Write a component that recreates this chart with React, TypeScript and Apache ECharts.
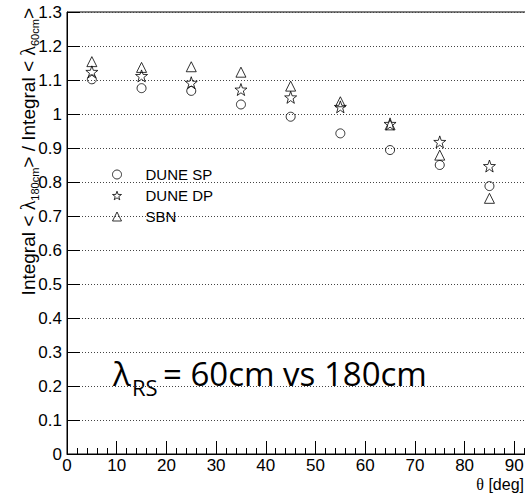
import React, { useEffect, useRef } from "react";
import * as echarts from "echarts";

// Polar angle bins (degrees)
const angles = [5, 15, 25, 35, 45, 55, 65, 75, 85];
// Ratio of integrals for the two Rayleigh scattering lengths
const duneSP = [1.102, 1.076, 1.068, 1.028, 0.992, 0.943, 0.894, 0.85, 0.788];
const duneDP = [1.124, 1.112, 1.092, 1.072, 1.049, 1.021, 0.971, 0.918, 0.847];
const sbn = [1.154, 1.137, 1.139, 1.123, 1.082, 1.036, 0.968, 0.879, 0.752];
const seriesNames = ["DUNE SP", "DUNE DP", "SBN"];
const yTicks = [0, 0.1, 0.2, 0.3, 0.4, 0.5, 0.6, 0.7, 0.8, 0.9, 1, 1.1, 1.2, 1.3];
const xTicks = [0, 10, 20, 30, 40, 50, 60, 70, 80, 90];

const STAR =
  "path://M0,-10L2.35,-3.24L9.51,-3.09L3.8,1.24L5.88,8.09L0,4L-5.88,8.09L-3.8,1.24L-9.51,-3.09L-2.35,-3.24Z";

const SANS = "'Liberation Sans', Arial, Helvetica, sans-serif";
const SERIF = "'Liberation Serif', 'DejaVu Serif', serif";

export default function App() {
  const ref = useRef<HTMLDivElement>(null);

  useEffect(() => {
    document.body.style.margin = "0";
    if (!ref.current) return;
    const chart = echarts.init(ref.current, undefined, { renderer: "svg" });

    const hollow = {
      color: "rgba(255,255,255,0)",
      borderColor: "#000",
      borderWidth: 1,
    };
    const pts = (vals: number[]) => angles.map((a, i) => [a, vals[i]]);

    chart.setOption({
      animation: false,
      backgroundColor: "#fff",
      grid: {
        left: 67,
        top: 12,
        right: 16,
        bottom: 40,
        show: true,
        borderColor: "#000",
        borderWidth: 1,
      },
      xAxis: {
        type: "value",
        min: 0,
        max: 100,
        interval: 10,
        axisLine: { show: true, onZero: false, lineStyle: { color: "#000", width: 1 } },
        axisTick: { show: true, inside: true, length: 13, lineStyle: { color: "#000" } },
        minorTick: { show: true, splitNumber: 5, length: 6, lineStyle: { color: "#000" } },
        splitLine: { show: false },
        axisLabel: {
          margin: 3,
          color: "#000",
          fontSize: 17,
          fontFamily: SANS,
          formatter: (v: number) => (xTicks.includes(v) ? String(v) : ""),
        },
      },
      yAxis: {
        type: "value",
        min: 0,
        max: 1.3,
        interval: 0.1,
        axisLine: { show: true, onZero: false, lineStyle: { color: "#000", width: 1 } },
        axisTick: { show: true, inside: true, length: 13, lineStyle: { color: "#000" } },
        splitLine: { show: true, lineStyle: { color: "#444", type: [1, 2], width: 1 } },
        axisLabel: {
          margin: 5,
          color: "#000",
          fontSize: 17,
          fontFamily: SANS,
          formatter: (v: number) => {
            const t = yTicks.find((y) => Math.abs(y - v) < 1e-6);
            return t === undefined ? "" : String(t);
          },
        },
      },
      legend: {
        orient: "vertical",
        left: 112,
        top: 166,
        padding: 0,
        itemGap: 4,
        itemWidth: 9,
        itemHeight: 9,
        itemStyle: { borderWidth: 1, borderColor: "#000", color: "rgba(255,255,255,0)" },
        data: seriesNames,
        textStyle: {
          color: "#000",
          fontSize: 15,
          lineHeight: 17,
          fontFamily: SANS,
          padding: [0, 0, 0, 19],
        },
      },
      series: [
        {
          name: seriesNames[0],
          type: "scatter",
          symbol: "circle",
          symbolSize: 9,
          itemStyle: hollow,
          data: pts(duneSP),
          z: 3,
        },
        {
          name: seriesNames[1],
          type: "scatter",
          symbol: STAR,
          symbolSize: 12,
          itemStyle: hollow,
          data: pts(duneDP),
          z: 4,
        },
        {
          name: seriesNames[2],
          type: "scatter",
          symbol: "triangle",
          symbolSize: 10,
          itemStyle: hollow,
          data: pts(sbn),
          z: 5,
        },
      ],
      graphic: [
        {
          type: "text",
          x: 28,
          y: 8,
          rotation: Math.PI / 2,
          style: {
            text:
              "{m|Integral < }{g|λ}{s|180cm}{m|> / Integral < }{g|λ}{s|60cm}{m|>}",
            align: "right",
            verticalAlign: "middle",
            fill: "#000",
            rich: {
              m: { fontSize: 19, fontFamily: SANS, lineHeight: 24, fill: "#000" },
              g: { fontSize: 20, fontFamily: SERIF, lineHeight: 24, fill: "#000" },
              s: {
                fontSize: 11,
                fontFamily: SANS,
                lineHeight: 11,
                verticalAlign: "bottom",
                fill: "#000",
              },
            },
          },
        },
        {
          type: "text",
          x: 524,
          y: 484,
          style: {
            text: "{t|θ} [deg]",
            align: "right",
            verticalAlign: "middle",
            fill: "#000",
            fontSize: 16,
            fontFamily: SANS,
            rich: {
              t: { fontSize: 16, fontFamily: SERIF, fill: "#000" },
            },
          },
        },
        {
          type: "text",
          x: 113,
          y: 373,
          style: {
            text: "λ",
            align: "left",
            verticalAlign: "middle",
            fill: "#000",
            fontSize: 33,
            fontFamily: "'Open Sans', sans-serif",
          },
        },
        {
          type: "text",
          x: 132,
          y: 387,
          style: {
            text: "RS",
            align: "left",
            verticalAlign: "middle",
            fill: "#000",
            fontSize: 22,
            fontFamily: "'Open Sans', sans-serif",
          },
        },
        {
          type: "text",
          x: 163,
          y: 373,
          style: {
            text: "= 60cm vs 180cm",
            align: "left",
            verticalAlign: "middle",
            fill: "#000",
            fontSize: 33,
            fontFamily: "'Open Sans', sans-serif",
          },
        },
      ],
    });

    return () => chart.dispose();
  }, []);

  return (
    <div style={{ width: 525, height: 494, overflow: "hidden", position: "relative", background: "#fff" }}>
      <div ref={ref} style={{ width: 580, height: 494 }} />
    </div>
  );
}
